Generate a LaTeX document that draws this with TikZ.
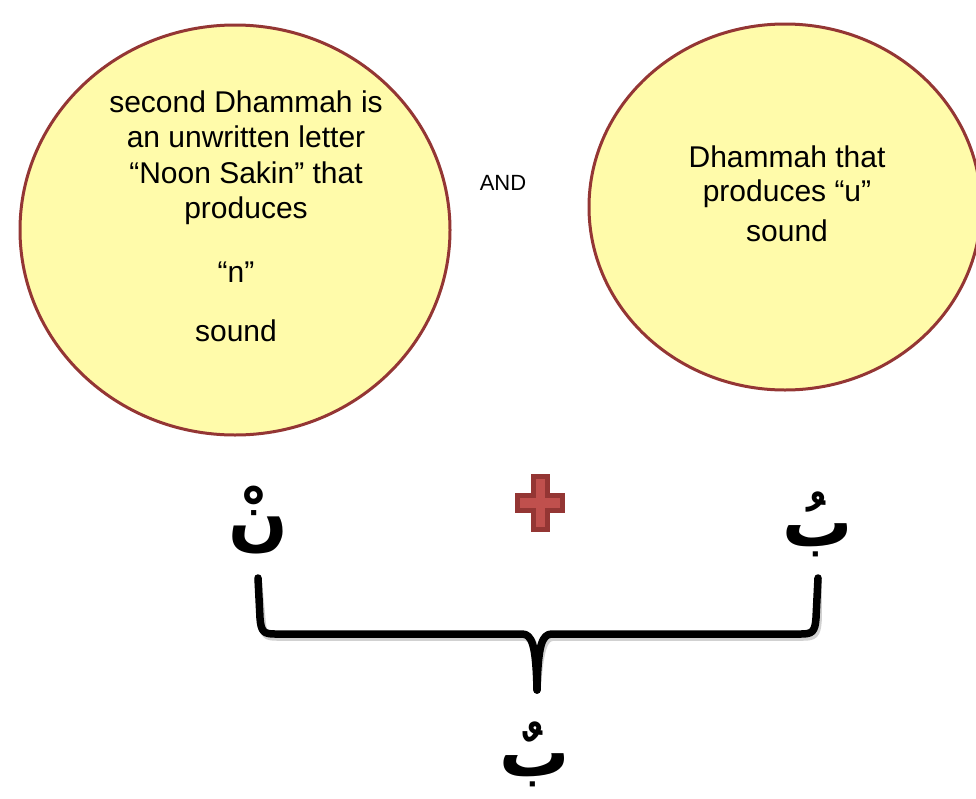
\documentclass[tikz,border=0pt]{standalone}
\usepackage{fontspec}
\setmainfont{Liberation Sans}
\newfontfamily\arabicfont[Script=Arabic]{DejaVu Sans}
\TeXXeTstate=1
\definecolor{bubblefill}{HTML}{FFFBAA}
\definecolor{bubbleedge}{HTML}{943634}
\definecolor{crossfill}{HTML}{C0504D}
\begin{document}
\begin{tikzpicture}[x=1pt,y=-1pt,
  bubble/.style={draw=bubbleedge,line width=3pt,fill=bubblefill},
  bodytext/.style={font=\fontsize{30}{34}\selectfont,align=center},
  letter/.style={font=\arabicfont\bfseries\fontsize{70}{76}\selectfont,inner sep=0pt},
  bracketline/.style={line width=7.5pt,line cap=round,line join=round}]
\useasboundingbox[fill=white] (0,0) rectangle (976,798);
\clip (0,0) rectangle (976,798);

% the two speech bubbles
\draw[bubble] (235,230) ellipse [x radius=215, y radius=205];
\draw[bubble] (785,207) ellipse [x radius=196, y radius=183];

\node[bodytext] (l1) at (246,102) {second Dhammah is};
\node[bodytext] (l2) at (246,137) {an unwritten letter};
\node[bodytext] (l3) at (246,173) {“Noon Sakin” that};
\node[bodytext] (l4) at (246,211) {produces};
\node[bodytext] (l5) at (236,272) {“n”};
\node[bodytext] (l6) at (236,331) {sound};

\node[bodytext] (r1) at (787,157) {Dhammah that};
\node[bodytext] (r2) at (787,194) {produces “u”};
\node[bodytext] (r3) at (787,231) {sound};

\node[font=\fontsize{22}{25}\selectfont] (and) at (503,183) {AND};

% letters
\node[letter] (nun) at (258,520) {\beginR نْ\endR};
\node[letter] (ba) at (818,524) {\beginR بُ\endR};
\node[letter] (res) at (535,754) {\beginR بٌ\endR};

% plus sign
\node (plus) at (540,503) {};
\draw[draw=bubbleedge,fill=crossfill,line width=5pt]
  (533.5,476.5) -- (547.5,476.5) -- (547.5,495.5) -- (562.5,495.5) -- (562.5,510.5) -- (547.5,510.5)
  -- (547.5,529.5) -- (533.5,529.5) -- (533.5,510.5) -- (517.5,510.5) -- (517.5,495.5) -- (533.5,495.5) -- cycle;

% joining bracket
\coordinate (bl) at (258,578);
\coordinate (br) at (818,578);
\coordinate (bm) at (537,690);
\foreach \dx/\dy/\col in {2/3/black!18, 0/0/black}{
\begin{scope}[shift={(\dx,\dy)}]
\draw[bracketline,draw=\col] (bl) -- (260,618) .. controls (261,632) and (264,634) .. (275,634)
  -- (522,634) .. controls (532,634) and (536,645) .. (bm);
\draw[bracketline,draw=\col] (br) -- (816,618) .. controls (815,632) and (812,634) .. (801,634)
  -- (552,634) .. controls (542,634) and (538,645) .. (bm);
\end{scope}}
\end{tikzpicture}
\end{document}
